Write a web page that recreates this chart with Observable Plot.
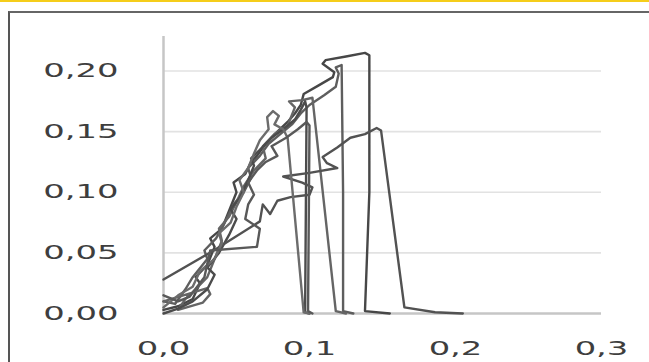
<!DOCTYPE html>
<html>
<head>
<meta charset="utf-8">
<script src="https://cdn.jsdelivr.net/npm/d3@7"></script>
<script src="https://cdn.jsdelivr.net/npm/@observablehq/plot@0.6"></script>
<style>
  html, body { margin: 0; padding: 0; background: #fff; width: 649px; height: 362px; overflow: hidden; position: relative; }
  #chart { position: absolute; left: 0; top: 0; }
  #topline { position: absolute; left: 0; top: 0; width: 649px; height: 2px; background: #f5cd1a; }
  #frame { position: absolute; left: 8px; top: 11px; width: 700px; height: 400px;
           border-left: 2px solid #555; border-top: 2px solid #666; pointer-events: none; }
</style>
</head>
<body>
<div id="chart"></div>
<div id="topline"></div>
<div id="frame"></div>
<script>
// Axis ticks and their labels (decimal comma)
const xTicks = [0, 0.1, 0.2, 0.3];
const xTickLabels = ["0,0", "0,1", "0,2", "0,3"];
const yTicks = [0, 0.05, 0.1, 0.15, 0.2];
const yTickLabels = ["0,00", "0,05", "0,10", "0,15", "0,20"];

// Specimen curves: strain / stress
const strainA = [0,0.01,0.02,0.025,0.022,0.03,0.035,0.032,0.04,0.045,0.05,0.048,0.056,0.06,0.064,0.07,0.078,0.085,0.09,0.094,0.096,0.106,0.116,0.117,0.109,0.111,0.125,0.138,0.141,0.141,0.138,0.155];
const stressA = [0.003,0.006,0.012,0.025,0.03,0.04,0.055,0.062,0.07,0.085,0.1,0.108,0.115,0.125,0.13,0.14,0.15,0.158,0.165,0.172,0.181,0.188,0.195,0.199,0.206,0.209,0.212,0.215,0.213,0.1,0.002,0];

const strainB = [0,0.008,0.015,0.02,0.03,0.028,0.036,0.042,0.048,0.055,0.06,0.058,0.066,0.072,0.08,0.088,0.094,0.1,0.11,0.118,0.12,0.118,0.122,0.123,0.123,0.13];
const stressB = [0.01,0.008,0.02,0.03,0.045,0.052,0.062,0.075,0.09,0.1,0.112,0.12,0.13,0.14,0.148,0.156,0.165,0.172,0.18,0.187,0.198,0.203,0.205,0.1,0.002,0];

const strainC = [0,0.03,0.032,0.027,0.01,0.015,0.022,0.03,0.035,0.04,0.038,0.045,0.05,0.055,0.062,0.07,0.068,0.076,0.085,0.09,0.086,0.095,0.102,0.118,0.125];
const stressC = [0.01,0.021,0.016,0.009,0.003,0.012,0.02,0.03,0.045,0.06,0.07,0.08,0.092,0.105,0.118,0.128,0.138,0.148,0.155,0.17,0.175,0.176,0.178,0.002,0];

const strainD = [0,0.01,0.02,0.03,0.035,0.03,0.038,0.045,0.05,0.046,0.052,0.058,0.062,0.06,0.066,0.074,0.082,0.09,0.094,0.097,0.098,0.097,0.1];
const stressD = [0,0.004,0.01,0.02,0.032,0.038,0.05,0.065,0.078,0.086,0.095,0.11,0.122,0.128,0.135,0.145,0.152,0.16,0.168,0.175,0.17,0.001,0];

const strainE = [0,0.033,0.066,0.068,0.073,0.078,0.087,0.1,0.102,0.095,0.082,0.1,0.119,0.112,0.109,0.119,0.128,0.138,0.146,0.149,0.165,0.186,0.205];
const stressE = [0.028,0.051,0.076,0.09,0.082,0.093,0.096,0.098,0.104,0.108,0.113,0.116,0.12,0.124,0.129,0.137,0.145,0.148,0.153,0.151,0.005,0.001,0];

const strainF = [0,0.01,0.02,0.025,0.035,0.04,0.038,0.046,0.05,0.055,0.052,0.058,0.062,0.066,0.072,0.071,0.075,0.079,0.076,0.082,0.085,0.096,0.1];
const stressF = [0.005,0.015,0.022,0.035,0.045,0.058,0.066,0.075,0.088,0.1,0.11,0.12,0.132,0.143,0.152,0.162,0.167,0.163,0.156,0.152,0.145,0.001,0];

const strainG = [0,0.01,0.018,0.028,0.032,0.064,0.066,0.056,0.058,0.062,0.058,0.064,0.07,0.078,0.074,0.084,0.092,0.098,0.1,0.099,0.102];
const stressG = [0.015,0.01,0.014,0.03,0.052,0.055,0.07,0.078,0.09,0.098,0.108,0.118,0.125,0.13,0.138,0.145,0.152,0.158,0.155,0.002,0];

const specimens = [
  {name: "A", strain: strainA, stress: stressA, color: "#474747"},
  {name: "B", strain: strainB, stress: stressB, color: "#5e5e5e"},
  {name: "C", strain: strainC, stress: stressC, color: "#656565"},
  {name: "D", strain: strainD, stress: stressD, color: "#4c4c4c"},
  {name: "E", strain: strainE, stress: stressE, color: "#525252"},
  {name: "F", strain: strainF, stress: stressF, color: "#6c6c6c"},
  {name: "G", strain: strainG, stress: stressG, color: "#595959"}
];
const rows = specimens.flatMap(s => s.strain.map((x, i) => ({name: s.name, x, y: s.stress[i], color: s.color})));

const labelFont = {fontFamily: "DejaVu Sans", fontSize: 19, fill: "#3e3e3e"};

const svg = Plot.plot({
  width: 649,
  height: 362,
  marginLeft: 163,
  marginRight: 48,
  marginTop: 36,
  marginBottom: 49,
  x: {domain: [0, 0.3], axis: null},
  y: {domain: [0, 0.2285], axis: null},
  marks: [
    Plot.ruleY(yTicks.filter(d => d > 0), {stroke: "#e2e2e2", strokeWidth: 1.6}),
    Plot.ruleY([0], {stroke: "#c6c6c6", strokeWidth: 2.5}),
    Plot.ruleX([0], {y1: 0, y2: 0.2285, stroke: "#c6c6c6", strokeWidth: 2.5}),
    Plot.line(rows, {x: "x", y: "y", z: "name", stroke: "color", strokeWidth: 2.4, strokeLinejoin: "round", strokeLinecap: "round"}),
    Plot.text(yTicks, {x: 0, y: d => d, text: (d, i) => yTickLabels[i], textAnchor: "end", dx: -45, ...labelFont}),
    Plot.text(xTicks, {x: d => d, y: 0, text: (d, i) => xTickLabels[i], dy: 35, ...labelFont})
  ]
});
document.getElementById("chart").append(svg);

// Wide tick-label lettering: stretch glyphs horizontally around their anchor
const k = 1.78;
svg.querySelectorAll("text").forEach(el => {
  const label = el.textContent;
  const isY = yTickLabels.includes(label);
  if (!isY && !xTickLabels.includes(label)) return;
  const b = el.getBBox();
  const ax = isY ? b.x + b.width : b.x + b.width / 2;
  const t = el.getAttribute("transform") || "";
  el.setAttribute("transform", `${t} translate(${ax},0) scale(${k},1) translate(${-ax},0)`);
});
</script>
</body>
</html>
